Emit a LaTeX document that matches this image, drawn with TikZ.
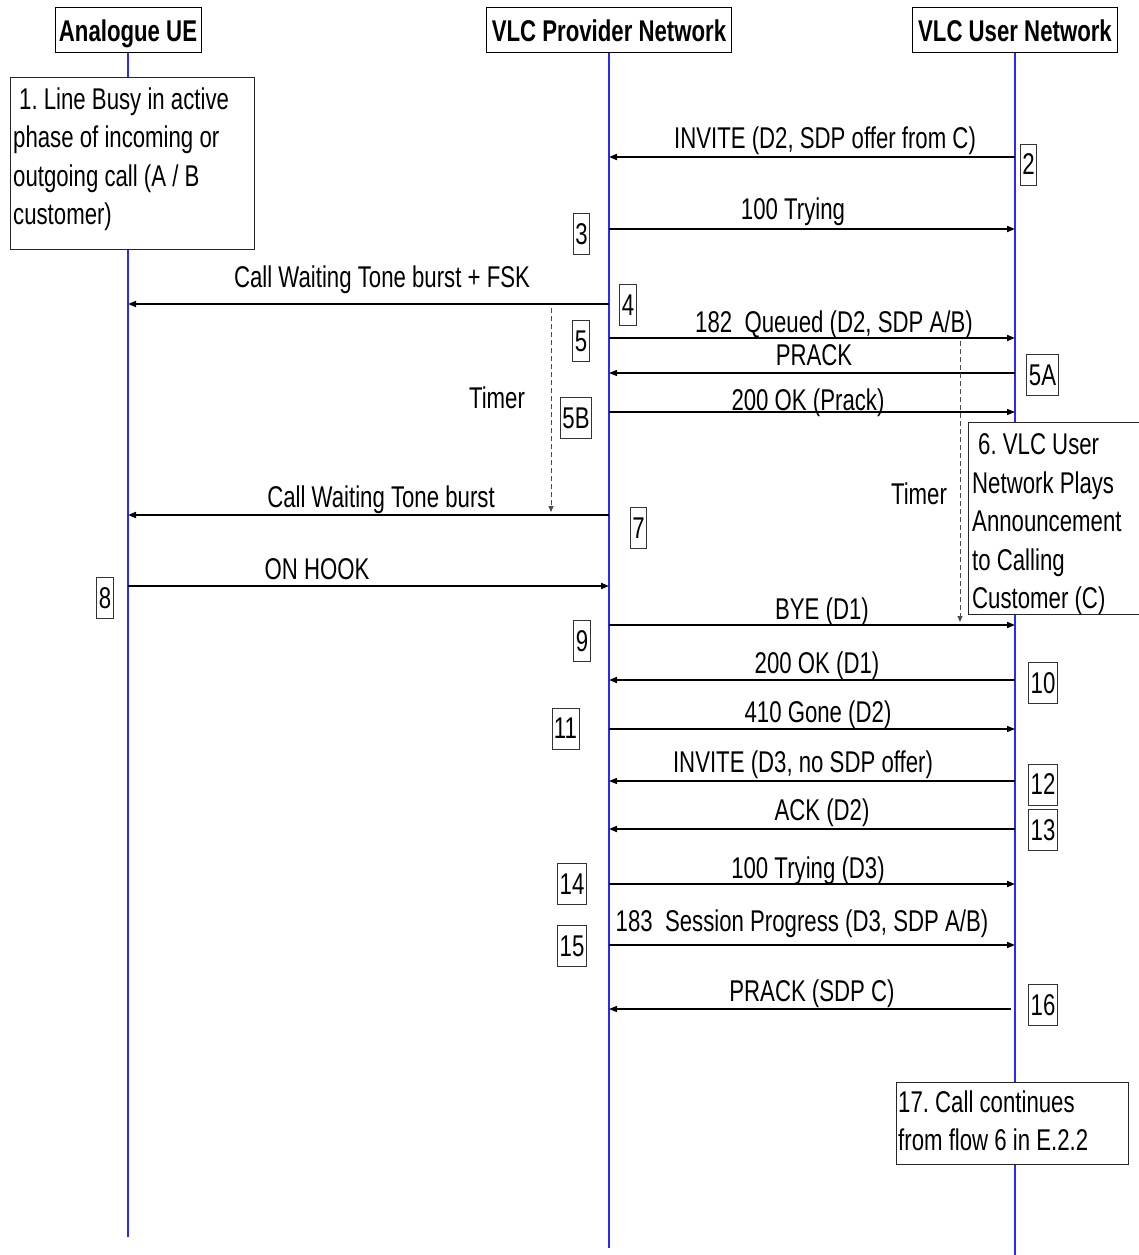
\documentclass[tikz,border=0pt]{standalone}
\usepackage{fontspec}
\setmainfont{Liberation Sans}[FakeStretch=0.74]
\usetikzlibrary{arrows.meta}
\definecolor{lifeblue}{RGB}{40,40,255}
\frenchspacing
\begin{document}
\begin{tikzpicture}[x=1pt,y=-1pt,
  every node/.style={font=\fontsize{30}{38.5}\selectfont, inner sep=0pt},
  hdr/.style={draw=black,line width=1pt,minimum height=45pt,fill=white,text height=23pt,text depth=1pt,font=\fontsize{30}{34}\selectfont\bfseries},
  life/.style={draw=lifeblue,line width=1.05pt},
  msg/.style={draw=black,line width=1.8pt,-{Triangle[length=8pt,width=6pt]}},
  msgthin/.style={draw=black,line width=1.2pt,-{Triangle[length=8pt,width=6pt]}},
  lbl/.style={anchor=base},
  numbox/.style={draw=black!80,line width=0.9pt,minimum height=41pt,inner xsep=2pt,fill=white},
  notebox/.style={draw=black!85,line width=1pt,fill=white,anchor=north west},
  notetext/.style={anchor=north west,align=left},
  timer/.style={draw=black!70,line width=0.9pt,dash pattern=on 5pt off 3pt,-{Triangle[length=6pt,width=5pt]}}
]
\path[use as bounding box] (0,0) rectangle (1139,1255);

% headers
\node[hdr,minimum width=146pt] (A) at (128,30.5) {Analogue UE};
\node[hdr,minimum width=245pt] (P) at (609,30.5) {VLC Provider Network};
\node[hdr,minimum width=205pt] (U) at (1015,30.5) {VLC User Network};

% lifelines
\coordinate (Aend) at (128,1237);
\coordinate (Pend) at (609,1248);
\coordinate (Uend) at (1015,1255);
\draw[life] (A.south) -- (Aend);
\draw[life] (P.south) -- (Pend);
\draw[life] (U.south) -- (Uend);

% note boxes
\node[notebox,minimum width=244pt,minimum height=172pt] (n1) at (10,77) {};
\node[notetext] (n1t) at (13,87.5) {\hspace*{6pt}1. Line Busy in active\\phase of incoming or\\outgoing call (A / B\\customer)};
\node[notebox,minimum width=180pt,minimum height=192pt] (n6) at (968,422) {};
\node[notetext] (n6t) at (972,433.5) {\hspace*{6pt}6. VLC User\\Network Plays\\Announcement\\to Calling\\Customer (C)};
\node[notebox,minimum width=232pt,minimum height=82pt] (n17) at (896,1082) {};
\node[notetext] (n17t) at (898,1090.5) {17. Call continues\\from flow 6 in E.2.2};

% row coordinates
\coordinate (y2) at (0,157);
\coordinate (y3) at (0,229);
\coordinate (y4) at (0,304);
\coordinate (y5) at (0,338);
\coordinate (y5a) at (0,373);
\coordinate (y5b) at (0,412);
\coordinate (y7) at (0,515);
\coordinate (y8) at (0,586);
\coordinate (y9) at (0,625);
\coordinate (y10) at (0,680);
\coordinate (y11) at (0,729);
\coordinate (y12) at (0,781);
\coordinate (y13) at (0,829);
\coordinate (y14) at (0,884);
\coordinate (y15) at (0,945);
\coordinate (y16) at (0,1009);

% messages
\draw[msg] (U |- y2) -- (P |- y2);
\draw[msg] (P |- y3) -- (U |- y3);
\draw[msg] (P |- y4) -- (A |- y4);
\draw[msg] (P |- y5) -- (U |- y5);
\draw[msgthin] (U |- y5a) -- (P |- y5a);
\draw[msgthin] (P |- y5b) -- (U |- y5b);
\draw[msg] (P |- y7) -- (A |- y7);
\draw[msg] (A |- y8) -- (P |- y8);
\draw[msg] (P |- y9) -- (U |- y9);
\draw[msg] (U |- y10) -- (P |- y10);
\draw[msgthin] (P |- y11) -- (U |- y11);
\draw[msgthin] (U |- y12) -- (P |- y12);
\draw[msg] (U |- y13) -- (P |- y13);
\draw[msg] (P |- y14) -- (U |- y14);
\draw[msg] (P |- y15) -- (U |- y15);
\draw[msgthin] ([xshift=-4pt]U |- y16) -- (P |- y16);

% labels
\node[lbl] (l2) at (825,148) {INVITE (D2, SDP offer from C)};
\node[lbl] (l3) at (793,219) {100 Trying};
\node[lbl] (l4) at (382,287) {Call Waiting Tone burst + FSK};
\node[lbl] (l5) at (834,332) {182\ \ Queued (D2, SDP A/B)};
\node[lbl] (l5a) at (814,365) {PRACK};
\node[lbl] (l5b) at (808,410) {200 OK (Prack)};
\node[lbl] (l7) at (381,507) {Call Waiting Tone burst};
\node[lbl] (l8) at (317,579) {ON HOOK};
\node[lbl] (l9) at (822,619) {BYE (D1)};
\node[lbl] (l10) at (817,673) {200 OK (D1)};
\node[lbl] (l11) at (818,722) {410 Gone (D2)};
\node[lbl] (l12) at (803,772) {INVITE (D3, no SDP offer)};
\node[lbl] (l13) at (822,820) {ACK (D2)};
\node[lbl] (l14) at (808,878) {100 Trying (D3)};
\node[lbl] (l15) at (802,931) {183\ \ Session Progress (D3, SDP A/B)};
\node[lbl] (l16) at (812,1001) {PRACK (SDP C)};

% timers
\coordinate (t1s) at (551,308);
\coordinate (t1e) at (551,512);
\draw[timer] (t1s) -- (t1e);
\node[lbl] (tl1) at (497,408) {Timer};
\coordinate (t2s) at (960,341);
\coordinate (t2e) at (960,622);
\draw[timer] (t2s) -- (t2e);
\node[lbl] (tl2) at (919,504) {Timer};

% number boxes
\node[numbox] (b2) at (1028.5,164.5) {2};
\node[numbox] (b3) at (581.5,234) {3};
\node[numbox] (b4) at (628,305) {4};
\node[numbox] (b5) at (581,341) {5};
\node[numbox] (b5a) at (1042.5,375) {5A};
\node[numbox] (b5b) at (576,418) {5B};
\node[numbox] (b7) at (638.5,528) {7};
\node[numbox] (b8) at (105,598) {8};
\node[numbox] (b9) at (582,641) {9};
\node[numbox] (b10) at (1043,683) {10};
\node[numbox] (b11) at (565.5,728.5) {11};
\node[numbox] (b12) at (1043,784.5) {12};
\node[numbox] (b13) at (1043,830) {13};
\node[numbox] (b14) at (572,884) {14};
\node[numbox] (b15) at (572,946) {15};
\node[numbox] (b16) at (1043,1005) {16};
\end{tikzpicture}
\end{document}
